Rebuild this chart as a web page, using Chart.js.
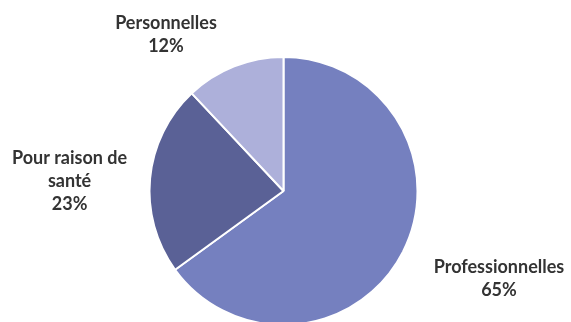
<!DOCTYPE html>
<html lang="fr">
  <head>
    <meta charset="UTF-8" />
    <title>Raisons</title>
    <script src="https://cdn.jsdelivr.net/npm/chart.js"></script>
    <style>
      body {
        margin: 0;
        padding: 0;
        background: #ffffff;
        overflow: hidden;
      }
      .wrap {
        position: absolute;
        left: 0;
        top: 0;
        width: 571px;
        height: 330px;
      }
    </style>
  </head>
  <body>
    <div class="wrap">
      <canvas id="pie" width="571" height="330"></canvas>
    </div>

    <script>
      // data
      const categories = ["Professionnelles", "Pour raison de santé", "Personnelles"];
      const labelLines = [["Professionnelles"], ["Pour raison de", "santé"], ["Personnelles"]];
      const shares = [65, 23, 12];
      const colors = ["#7580bf", "#5a6196", "#adb0da"];

      // draws the outside labels from each arc's own geometry
      const outsideLabels = {
        id: "outsideLabels",
        afterDatasetsDraw(chart, args, opts) {
          const ctx = chart.ctx;
          const meta = chart.getDatasetMeta(0);
          const gap = opts.gap;
          const lineH = opts.lineHeight;
          ctx.save();
          ctx.font = opts.font;
          ctx.fillStyle = opts.color;
          ctx.textBaseline = "middle";
          ctx.textAlign = "center";
          meta.data.forEach((arc, i) => {
            const p = arc.getProps(["x", "y", "startAngle", "endAngle", "outerRadius"], true);
            const mid = (p.startAngle + p.endAngle) / 2;
            const dx = Math.cos(mid), dy = Math.sin(mid);
            const ax = p.x + (p.outerRadius + gap) * dx + opts.nudge[i][0];
            const ay = p.y + (p.outerRadius + gap) * dy + opts.nudge[i][1];
            const lines = labelLines[i].concat([shares[i] + "%"]);
            const w = Math.max(...lines.map((t) => ctx.measureText(t).width));
            const h = lines.length * lineH;
            let left = ax - w / 2;
            if (dx > 0.3) left = ax;
            else if (dx < -0.3) left = ax - w;
            let top = ay - h / 2;
            if (dy > 0.3) top = ay;
            else if (dy < -0.3) top = ay - h;
            lines.forEach((t, k) => {
              ctx.fillText(t, left + w / 2, top + lineH * (k + 0.5));
            });
          });
          ctx.restore();
        },
      };

      new Chart(document.getElementById("pie"), {
        type: "pie",
        data: {
          labels: categories,
          datasets: [
            {
              data: shares,
              backgroundColor: colors,
              borderColor: "#ffffff",
              borderWidth: 2,
              hoverOffset: 0,
            },
          ],
        },
        options: {
          responsive: false,
          animation: false,
          devicePixelRatio: 1,
          layout: { padding: { left: 148, right: 152, top: 56, bottom: 4 } },
          plugins: {
            legend: { display: false },
            tooltip: { enabled: false },
            outsideLabels: {
              font: "bold 18px Lato, 'Open Sans', sans-serif",
              color: "#333333",
              gap: 20,
              lineHeight: 23,
              nudge: [[13, -5], [-3, 5], [-10, 10]],
            },
          },
        },
        plugins: [outsideLabels],
      });
    </script>
  </body>
</html>
